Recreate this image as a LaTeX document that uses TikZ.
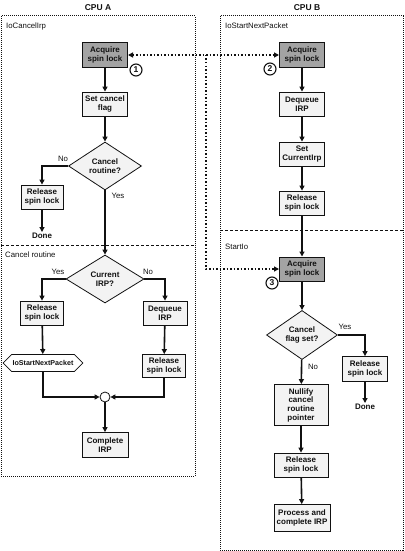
\documentclass[tikz,border=0pt]{standalone}
\usepackage{fontspec}
\setmainfont{Liberation Sans}
\usetikzlibrary{arrows.meta,positioning,shapes.geometric,shapes.symbols}
\definecolor{lockg}{HTML}{A3A3A3}
\definecolor{boxg}{HTML}{F3F3F3}
\definecolor{ink}{HTML}{111111}
\tikzset{
  >={Triangle[length=5pt,width=5pt]},
  every node/.style={font=\fontsize{7.8}{8.6}\selectfont, text=ink},
  stepbox/.style={draw=ink, line width=0.8pt, fill=boxg, minimum width=45pt, minimum height=24pt, inner sep=1pt, align=center, font=\fontsize{8}{8.7}\selectfont\bfseries},
  lockbox/.style={stepbox, fill=lockg, line width=1pt},
  test/.style={diamond, draw=ink, line width=0.8pt, fill=boxg, inner sep=0pt, align=center, font=\fontsize{8}{8.7}\selectfont\bfseries},
  call/.style={signal, signal to=west and east, draw=ink, line width=0.8pt, fill=white, inner xsep=1pt, inner ysep=0pt, minimum width=74pt, minimum height=17pt, font=\fontsize{7.1}{8}\selectfont\bfseries},
  merge/.style={circle, draw=ink, line width=0.8pt, fill=white, minimum size=10pt, inner sep=0pt},
  tag/.style={circle, draw=ink, line width=1.1pt, fill=white, minimum size=12pt, inner sep=0pt, font=\fontsize{8.5}{8.5}\selectfont\bfseries},
  endtxt/.style={inner sep=1pt, font=\fontsize{8}{8.7}\selectfont\bfseries},
  flow/.style={->, draw=ink, line width=1.6pt},
  sync/.style={draw=ink, line width=1.5pt, dotted},
  pane/.style={draw=ink, densely dotted, line width=1pt},
  divide/.style={draw=ink, densely dashed, line width=0.6pt},
  lbl/.style={inner sep=1pt},
  head/.style={font=\fontsize{8.5}{9}\selectfont\bfseries},
}
\begin{document}
\begin{tikzpicture}[x=1pt,y=-1pt]
\useasboundingbox (0,0) rectangle (404,551);

% panes
\draw[pane] (1,16) rectangle (195,476);
\draw[divide] (1,245) -- (195,245);
\draw[pane] (220,16) rectangle (403,550);
\draw[divide] (220,230) -- (403,230);
\node[head] (cpua) at (98,8) {CPU A};
\node[head] (cpub) at (307,8) {CPU B};
\node[lbl, anchor=west] (paneirp) at (5,26) {IoCancelIrp};
\node[lbl, anchor=west] (panecan) at (4,255) {Cancel routine};
\node[lbl, anchor=west] (panenext) at (224,26) {IoStartNextPacket};
\node[lbl, anchor=west] (panestart) at (224,247) {StartIo};

% CPU A: IoCancelIrp
\node[lockbox] (a1) at (105,55) {Acquire\\spin lock};
\node[tag] (t1) at (136,70) {1};
\node[stepbox] (setflag) at (105,104) {Set cancel\\flag};
\node[test, minimum width=73pt, minimum height=48pt] (cancelq) at (105,166) {Cancel\\routine?};
\node[stepbox, minimum width=42pt] (rel1) at (42,197) {Release\\spin lock};
\node[endtxt] (done1) at (42,236) {Done};

% CPU A: cancel routine
\node[test, minimum width=78pt, minimum height=48pt] (currentq) at (105,279) {Current\\IRP?};
\node[stepbox, minimum width=43pt] (rel2) at (42,313) {Release\\spin lock};
\node[call] (nextpkt) at (43,363) {IoStartNextPacket};
\node[stepbox, minimum width=44pt] (deq2) at (165,313) {Dequeue\\IRP};
\node[stepbox, minimum width=43pt, minimum height=23pt] (rel3) at (164,366) {Release\\spin lock};
\node[merge] (join) at (105,397) {};
\node[stepbox, minimum width=46pt, minimum height=25pt] (complete) at (105,445) {Complete\\IRP};

\draw[flow] (a1) -- (setflag);
\draw[flow] (setflag) -- (cancelq);
\draw[flow] (cancelq.west) -| (rel1.north);
\node[lbl] at (63,159) {No};
\draw[flow] (rel1) -- (done1);
\draw[flow] (cancelq) -- (currentq);
\node[lbl] at (118,196) {Yes};
\draw[flow] (currentq.west) -| (rel2.north);
\draw[flow] (currentq.east) -| (deq2.north);
\node[lbl] at (58,272) {Yes};
\node[lbl] at (148,272) {No};
\draw[flow] (rel2) -- (nextpkt);
\draw[flow] (deq2) -- (rel3);
\draw[flow] (nextpkt.south) |- (join.west);
\draw[flow] (rel3.south) |- (join.east);
\draw[flow] (join) -- (complete);

% CPU B: IoStartNextPacket
\node[lockbox] (b1) at (302,55) {Acquire\\spin lock};
\node[tag] (t2) at (270,69) {2};
\node[stepbox] (deq1) at (302,104) {Dequeue\\IRP};
\node[stepbox] (setcur) at (302,154) {Set\\CurrentIrp};
\node[stepbox] (rel4) at (302,203) {Release\\spin lock};

% CPU B: StartIo
\node[lockbox] (b2) at (302,269) {Acquire\\spin lock};
\node[tag] (t3) at (272,283) {3};
\node[test, minimum width=71pt, minimum height=48pt] (flagq) at (302,335) {Cancel\\flag set?};
\node[stepbox, minimum width=45pt, minimum height=25pt] (rel5) at (365,369) {Release\\spin lock};
\node[endtxt] (done2) at (365,407) {Done};
\node[stepbox, minimum width=54pt, minimum height=41pt] (nullify) at (301,405) {Nullify\\cancel\\routine\\pointer};
\node[stepbox, minimum width=54pt] (rel6) at (301,465) {Release\\spin lock};
\node[stepbox, minimum width=56pt, minimum height=27pt] (process) at (302,518) {Process and\\complete IRP};

\draw[flow] (b1) -- (deq1);
\draw[flow] (deq1) -- (setcur);
\draw[flow] (setcur) -- (rel4);
\draw[flow] (rel4) -- (b2);
\draw[flow] (b2) -- (flagq);
\draw[flow] (flagq.east) -| (rel5.north);
\node[lbl] at (345,327) {Yes};
\draw[flow] (rel5) -- (done2);
\draw[flow] (flagq) -- (nullify);
\node[lbl] at (313,367) {No};
\draw[flow] (nullify) -- (rel6);
\draw[flow] (rel6) -- (process);

% spin lock contention
\coordinate (split) at (206,55);
\draw[sync, <-] (a1) -- (split);
\draw[sync, ->] (split) -- (b1);
\draw[sync, ->] (split) |- (b2);
\end{tikzpicture}
\end{document}
